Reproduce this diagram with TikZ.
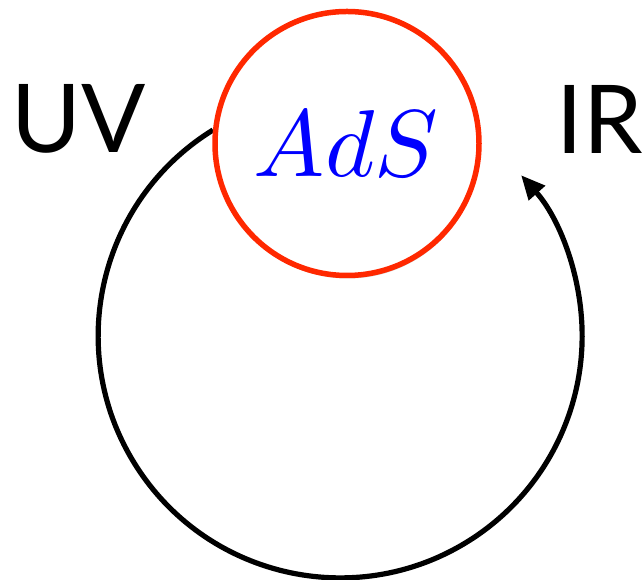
\documentclass[tikz,border=0pt]{standalone}
\usepackage{fontspec}
\newfontfamily\labelfont{Lato}
\usetikzlibrary{arrows.meta,shadows}
\definecolor{adsred}{RGB}{255,40,0}
\begin{document}
\begin{tikzpicture}[x=1pt,y=1pt,
  lbl/.style={font=\labelfont\fontsize{95}{100}\selectfont, text=black, inner sep=0pt},
  flow/.style={line width=5.2pt, -{Triangle[length=24pt,width=21pt]}}]
\useasboundingbox (0,0) rectangle (643,580);
% flow arc
\coordinate (start) at (213,450);
\draw[flow] (start) arc[start angle=121.7, end angle=401.6, radius=242];
% AdS circle
\node[circle, draw=adsred, line width=5.5pt, fill=white, minimum size=264pt, inner sep=0pt,
  drop shadow={opacity=0.35, shadow xshift=1pt, shadow yshift=-3pt}] (ads) at (347,436.5) {};
\node[anchor=base, inner sep=0pt, text=blue] (adstext) at (346,403)
  {\scalebox{9.5}{$AdS$}};
\node[lbl] (uv) at (78.5,461) {UV};
\node[lbl] (ir) at (600,461) {IR};
\end{tikzpicture}
\end{document}
